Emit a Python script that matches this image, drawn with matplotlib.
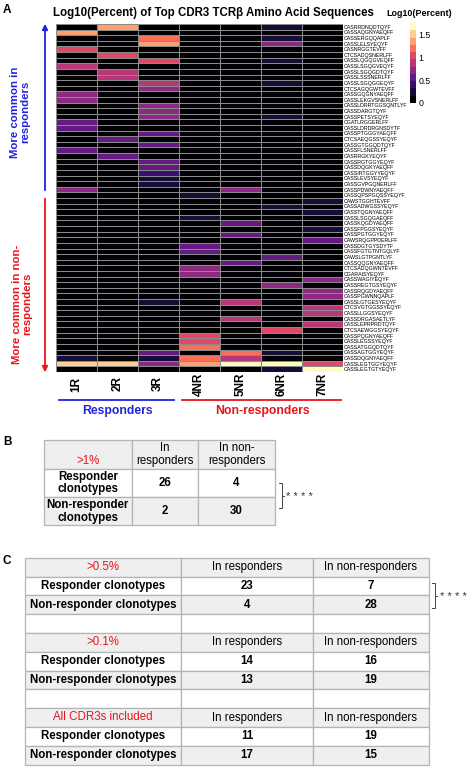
import numpy as np
import matplotlib
matplotlib.use('Agg')
import matplotlib.pyplot as plt
from matplotlib.colors import ListedColormap, Normalize
from matplotlib.patches import Rectangle

plt.rcParams['font.family'] = ['Liberation Sans', 'DejaVu Sans']

# ---- data -----------------------------------------------------------------
samples = ['1R', '2R', '3R', '4NR', '5NR', '6NR', '7NR']

clonotypes = [
    'CASRRDNQDTQYF', 'CASSAQGNYAEQFF', 'CASSERGQQAPLF', 'CASSLELSYEQYF',
    'CASNRGGTEVFF', 'CTCSADQSNERLFF', 'CASSLQGQGVEQFF', 'CASSLSGQGVEQYF',
    'CASSLSGQGDTQYF', 'CASSLSSSNERLFF', 'CASSLSGQGGEQYF', 'CTCSAGQGWTEVFF',
    'CASSGQGNYAEQFF', 'CASSLEKGVSNERLFF', 'CASSLDRRTGGSQNTLYF', 'CASSDARGTQYF',
    'CASSPETSYEQYF', 'CGATLRGGERLFF', 'CASSLDRDRGNSDYTF', 'CASSPTGGGYAEQFF',
    'CTCSAEQGSSYEQYF', 'CASSGTGGQDTQYF', 'CASSFLSNERLFF', 'CASRRGKYEQYF',
    'CASSRGTGGYEQYF', 'CASSDQGKYAEQFF', 'CASSIRTGGYYEQYF', 'CASSLEVSYEQYF',
    'CASSGVPGQNERLFF', 'CASSPDWNYAEQFF', 'CASSQPSPGQSSYEQYF', 'CAWSTGGHTEVFF',
    'CASSADWGSSYEQYF', 'CASSTQGNYAEQFF', 'CASSLSGQGAEQFF', 'CASSKQGDYAEQFF',
    'CASSFPGGSYEQYF', 'CASSPGTGGYEQYF', 'CAWSRQGPPDERLFF', 'CASSDGTGYSDYTF',
    'CASSFGTGTNTGQLYF', 'CAWSLGTPGNTLYF', 'CASSQQGNYAEQFF', 'CTCSADQGWNTEVFF',
    'CGARAISYEQYF', 'CASSWAGIYEQYF', 'CASSREGTGSYEQYF', 'CASSRQGDYAEQFF',
    'CASSPGWNNQAPLF', 'CASSLGTGESYEQYF', 'CTCSVGTGGSSYEQYF', 'CASSLLGGSYEQYF',
    'CASSDRGASAETLYF', 'CASSLEPRPRDTQYF', 'CTCSAEWGGSYEQYF', 'CASSPQGNYAEQFF',
    'CASSLEGSSYEQYF', 'CASSATGGQDTQYF', 'CASSAGTGGYEQYF', 'CASSDQGNYAEQFF',
    'CASSLEGTGGYEQYF', 'CASSLEGTGTYEQYF',
]

# log10(percent) per sample, {row index: value}; all other cells are 0
pct_1R = {1: 1.35, 4: 1.05, 7: 0.88, 12: 0.72, 13: 0.72, 17: 0.56, 18: 0.5,
          22: 0.56, 29: 0.75, 59: 0.28, 60: 1.5}
pct_2R = {0: 1.35, 5: 1.05, 8: 0.88, 9: 0.88, 20: 0.56, 23: 0.56, 60: 1.5}
pct_3R = {2: 1.2, 3: 1.35, 6: 1.05, 10: 0.88, 11: 0.72, 14: 0.72, 15: 0.72,
          16: 0.72, 19: 0.56, 21: 0.56, 24: 0.56, 25: 0.5, 26: 0.4, 27: 0.3,
          28: 0.3, 49: 0.28, 58: 0.56, 59: 0.3, 60: 0.72}
pct_4NR = {30: 0.28, 34: 0.28, 39: 0.56, 40: 0.6, 43: 0.72, 44: 0.72,
           55: 1.0, 56: 1.0, 57: 1.2, 59: 1.2, 60: 1.35}
pct_5NR = {29: 0.75, 35: 0.56, 37: 0.56, 42: 0.56, 49: 0.88, 52: 0.88,
           58: 1.2, 59: 0.88, 60: 1.72}
pct_6NR = {0: 0.24, 2: 0.24, 3: 0.72, 6: 0.24, 10: 0.24, 16: 0.24, 32: 0.28,
           41: 0.56, 46: 0.72, 54: 1.05, 58: 0.28, 60: 1.72, 61: 0.28}
pct_7NR = {31: 0.28, 33: 0.28, 36: 0.28, 38: 0.56, 45: 0.72, 47: 0.72,
           48: 0.72, 50: 0.88, 51: 0.88, 53: 0.88, 60: 1.05, 61: 1.72}

# table B
tb_header = ['>1%', 'In\nresponders', 'In non-\nresponders']
tb_rows = ['Responder\nclonotypes', 'Non-responder\nclonotypes']
tb_counts = [[26, 4], [2, 30]]

# table C
tc_thresholds = ['>0.5%', '>0.1%', 'All CDR3s included']
tc_header = ['In responders', 'In non-responders']
tc_rows = ['Responder clonotypes', 'Non-responder clonotypes']
tc_responder = [[23, 7], [14, 16], [11, 19]]
tc_nonresponder = [[4, 28], [13, 19], [17, 15]]

BLUE = '#2222dd'
RED = '#e8141c'
W, H = 474, 784
FS = 8.3

fig = plt.figure(figsize=(W / 100, H / 100), dpi=100)
fig.patch.set_facecolor('white')


def frac(x0, y0, x1, y1):
    return [x0 / W, 1 - y1 / H, (x1 - x0) / W, (y1 - y0) / H]


# ---- heatmap --------------------------------------------------------------
mat = np.zeros((len(clonotypes), len(samples)))
for j, col in enumerate([pct_1R, pct_2R, pct_3R, pct_4NR, pct_5NR, pct_6NR, pct_7NR]):
    for i, v in col.items():
        mat[i, j] = v

cmap = ListedColormap(plt.get_cmap('magma')(np.linspace(0, 1, 11)))
norm = Normalize(0, 1.76)

ax = fig.add_axes(frac(55.7, 24, 342.7, 372))
mesh = ax.pcolormesh(mat, cmap=cmap, norm=norm, edgecolors='#8a8a8a', linewidth=0.4)
ax.set_xlim(0, len(samples))
ax.set_ylim(len(clonotypes), 0)
for s in ax.spines.values():
    s.set_visible(False)
ax.yaxis.tick_right()
ax.set_yticks(np.arange(len(clonotypes)) + 0.5)
ax.set_yticklabels(clonotypes, fontsize=3.8)
ax.set_xticks(np.arange(len(samples)) + 0.5)
ax.set_xticklabels(samples, rotation=90, fontsize=8.5, fontweight='bold', va='center')
ax.tick_params(axis='y', length=0, pad=1)
ax.tick_params(axis='x', length=0, pad=8.6)

cax = fig.add_axes(frac(410, 23, 416, 103))
cb = fig.colorbar(mesh, cax=cax, ticks=[0, 0.5, 1, 1.5])
cb.set_ticklabels(['0', '0.5', '1', '1.5'])
cb.outline.set_visible(False)
cax.tick_params(length=0, labelsize=6.3, pad=2)

# ---- overlay for text, arrows and tables ---------------------------------
ov = fig.add_axes([0, 0, 1, 1])
ov.set_xlim(0, W)
ov.set_ylim(H, 0)
ov.axis('off')

ov.text(3, 10, 'A', fontsize=8.5, fontweight='bold', va='center')
ov.text(213, 13, 'Log10(Percent) of Top CDR3 TCR\u03b2 Amino Acid Sequences',
        fontsize=8.3, fontweight='bold', ha='center', va='center')
ov.text(419, 13, 'Log10(Percent)', fontsize=6.4, fontweight='bold', ha='center', va='center')

ov.annotate('', xy=(45, 21), xytext=(45, 193),
            arrowprops=dict(arrowstyle='-|>', color=BLUE, lw=1.3, mutation_scale=8))
ov.annotate('', xy=(45, 375), xytext=(45, 196),
            arrowprops=dict(arrowstyle='-|>', color=RED, lw=1.3, mutation_scale=8))
ov.text(20, 112, 'More common in\nresponders', rotation=90, color=BLUE,
        fontsize=8.2, fontweight='bold', ha='center', va='center', linespacing=1.1)
ov.text(22, 304, 'More common in non-\nresponders', rotation=90, color=RED,
        fontsize=8.2, fontweight='bold', ha='center', va='center', linespacing=1.1)

ov.plot([59, 174], [400, 400], color=BLUE, lw=1.3)
ov.plot([182, 341], [400, 400], color=RED, lw=1.3)
ov.text(117, 411, 'Responders', color=BLUE, fontsize=8.8, fontweight='bold',
        ha='center', va='center')
ov.text(262, 411, 'Non-responders', color=RED, fontsize=8.8, fontweight='bold',
        ha='center', va='center')


def cell(x0, x1, y0, y1, fc):
    ov.add_patch(Rectangle((x0, y0), x1 - x0, y1 - y0, facecolor=fc,
                           edgecolor='#b4b4b4', lw=0.9))


def bracket(x, y0, y1, tx):
    ov.plot([x - 3, x, x, x - 3], [y0, y0, y1, y1], color='#444444', lw=0.7)
    ov.plot([x, x + 2], [(y0 + y1) / 2] * 2, color='#444444', lw=0.7)
    ov.text(tx, (y0 + y1) / 2 + 1.5, '* * * *', fontsize=8, color='#333333', va='center')


GRAY = '#efefef'

# ---- table B --------------------------------------------------------------
ov.text(3, 442, 'B', fontsize=8.5, fontweight='bold', va='center')
bx = [44, 131.7, 197.7, 275.3]
by = [440, 469, 497.3, 525.3]
for r in range(3):
    fc = 'white' if r == 1 else GRAY
    for c in range(3):
        cell(bx[c], bx[c + 1], by[r], by[r + 1], fc)
ov.text((bx[0] + bx[1]) / 2, 461, tb_header[0], color=RED, fontsize=FS,
        ha='center', va='center')
for c in (1, 2):
    ov.text((bx[c] + bx[c + 1]) / 2, (by[0] + by[1]) / 2, tb_header[c],
            fontsize=FS, ha='center', va='center', linespacing=1.05)
for r in range(2):
    yc = (by[r + 1] + by[r + 2]) / 2
    ov.text((bx[0] + bx[1]) / 2, yc, tb_rows[r], fontsize=FS, fontweight='bold',
            ha='center', va='center', linespacing=1.05)
    for c in range(2):
        ov.text((bx[c + 1] + bx[c + 2]) / 2, yc, str(tb_counts[r][c]), fontsize=FS,
                fontweight='bold', ha='center', va='center')
bracket(282, 483, 508, 286)

# ---- table C --------------------------------------------------------------
ov.text(3, 561, 'C', fontsize=8.5, fontweight='bold', va='center')
cx = [25, 181, 313, 429]
y_top, rh = 557.7, 18.8
for r in range(11):
    fc = GRAY if r % 2 == 0 else 'white'
    for c in range(3):
        cell(cx[c], cx[c + 1], y_top + r * rh, y_top + (r + 1) * rh, fc)

for k, thr in enumerate(tc_thresholds):
    r0 = 4 * k
    yc = y_top + (r0 + 0.5) * rh
    ov.text((cx[0] + cx[1]) / 2, yc, thr, color=RED, fontsize=FS,
            ha='center', va='center')
    for c in range(2):
        ov.text((cx[c + 1] + cx[c + 2]) / 2, yc, tc_header[c], fontsize=FS,
                ha='center', va='center')
    for i, counts in enumerate([tc_responder[k], tc_nonresponder[k]]):
        yc = y_top + (r0 + 1 + i + 0.5) * rh
        ov.text((cx[0] + cx[1]) / 2, yc, tc_rows[i], fontsize=FS,
                fontweight='bold', ha='center', va='center')
        for c in range(2):
            ov.text((cx[c + 1] + cx[c + 2]) / 2, yc, str(counts[c]), fontsize=FS,
                    fontweight='bold', ha='center', va='center')
bracket(435, 583, 608, 440)

fig.savefig('out.png', dpi=100, facecolor='white')
